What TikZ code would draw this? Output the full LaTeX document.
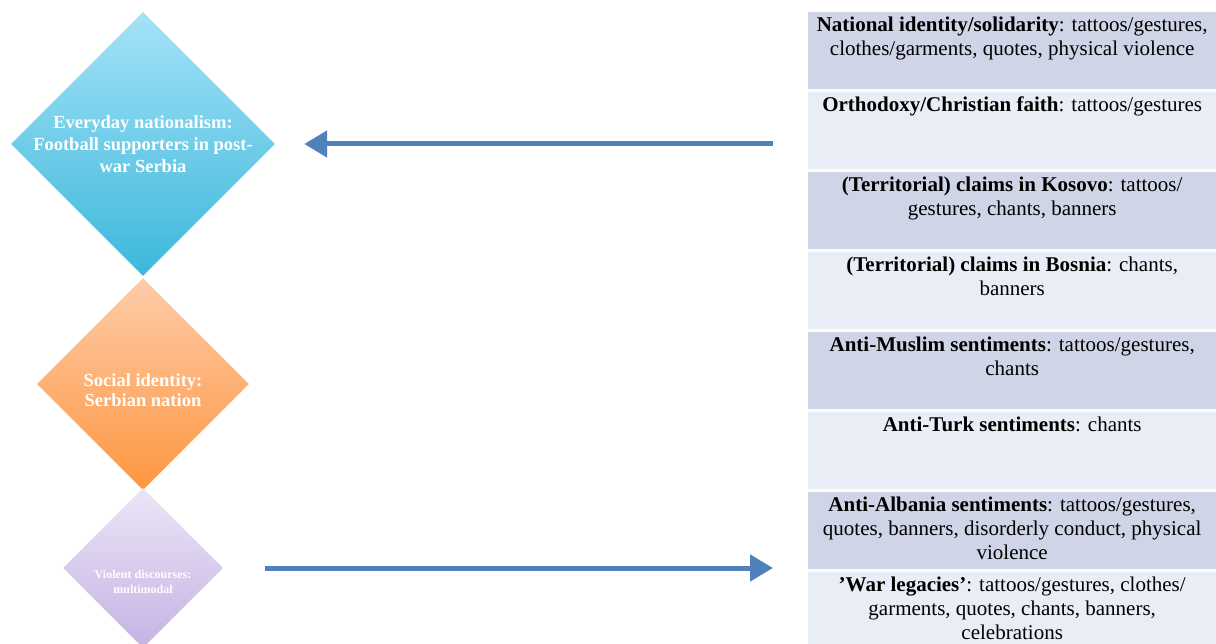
\documentclass[tikz,border=0pt]{standalone}
\usepackage{fontspec}
\setmainfont{Liberation Serif}
\usepackage{tikz}
\usetikzlibrary{positioning,shapes.geometric,arrows.meta}

\definecolor{rowDark}{HTML}{CFD5E6}
\definecolor{rowLight}{HTML}{E9EDF5}
\definecolor{arrowBlue}{HTML}{4F81BD}

\begin{document}
\begin{tikzpicture}[
    x=1pt, y=-1pt,
    >={Triangle[length=23pt,width=26pt]},
    every node/.style={align=center, font=\fontsize{21}{24}\selectfont},
    gem/.style={diamond, shape aspect=1, inner sep=0pt, draw=none},
    gemtext/.style={text=white, font=\bfseries\fontsize{18.5}{22}\selectfont},
    row/.style={rectangle, draw=none, inner sep=0pt, minimum width=408pt,
        minimum height=77pt, anchor=north west},
    rowtext/.style={anchor=north, inner sep=2.5pt},
    flow/.style={->, draw=arrowBlue, line width=5pt}]

    \useasboundingbox (0,0) rectangle (1216,644);

    % the three diamonds on the left
    \node[gem, minimum size=264pt, top color={rgb,255:red,165;green,226;blue,248}, bottom color={rgb,255:red,60;green,184;blue,218}] (everyday) at (143,144) {};
    \node[gemtext] (everydaytxt) at (143,144) {Everyday nationalism:\\ Football supporters in post-\\ war Serbia};
    \node[gem, minimum size=212pt, top color={rgb,255:red,254;green,204;blue,170}, bottom color={rgb,255:red,254;green,150;blue,64}] (social) at (143,384) {};
    \node[gemtext, font=\bfseries\fontsize{18.5}{20.5}\selectfont] (socialtxt) at (143,390) {Social identity:\\ Serbian nation};
    \node[gem, minimum size=160pt, top color={rgb,255:red,236;green,229;blue,246}, bottom color={rgb,255:red,198;green,178;blue,228}] (violent) at (143,568) {};
    \node[gemtext, font=\bfseries\fontsize{12}{15}\selectfont] (violenttxt) at (143,582) {Violent discourses:\\ multimodal};

    % the table on the right
    \foreach \i/\shade/\txt in {
        1/rowDark/{\textbf{National identity/solidarity}: tattoos/gestures,\\ clothes/garments, quotes, physical violence},
        2/rowLight/{\textbf{Orthodoxy/Christian faith}: tattoos/gestures},
        3/rowDark/{\textbf{(Territorial) claims in Kosovo}: tattoos/\\ gestures, chants, banners},
        4/rowLight/{\textbf{(Territorial) claims in Bosnia}: chants,\\ banners},
        5/rowDark/{\textbf{Anti-Muslim sentiments}: tattoos/gestures,\\ chants},
        6/rowLight/{\textbf{Anti-Turk sentiments}: chants},
        7/rowDark/{\textbf{Anti-Albania sentiments}: tattoos/gestures,\\ quotes, banners, disorderly conduct, physical\\ violence},
        8/rowLight/{\textbf{’War legacies’}: tattoos/gestures, clothes/\\ garments, quotes, chants, banners,\\ celebrations}} {
        \node[row, fill=\shade] (row\i) at (808,{12+80*(\i-1)}) {};
        \node[rowtext] (rowtxt\i) at (row\i.north) {\strut\txt};
    }

    % arrows
    \draw[flow, shorten <=35pt, shorten >=29pt] (everyday.east -| row2.west) -- (everyday.east);
    \draw[flow, shorten <=42pt, shorten >=35pt] (violent.east) -- (violent.east -| row8.west);

\end{tikzpicture}
\end{document}
